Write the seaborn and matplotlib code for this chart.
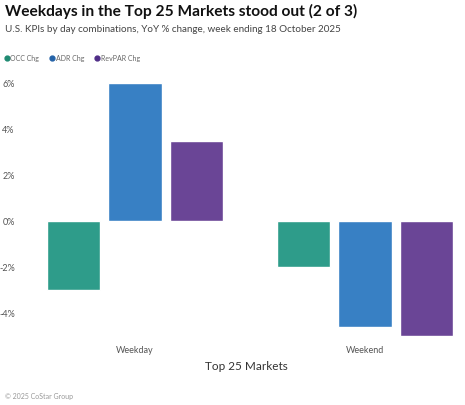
import numpy as np
import pandas as pd
import matplotlib
matplotlib.use("Agg")
import matplotlib.pyplot as plt
import seaborn as sns
from matplotlib.lines import Line2D

days = ["Weekday", "Weekend"]
metrics = ["OCC Chg", "ADR Chg", "RevPAR Chg"]
occ = [-3.0, -2.0]
adr = [6.0, -4.6]
revpar = [3.5, -5.0]
yticks = [-4, -2, 0, 2, 4, 6]
colors = ["#2e9c8a", "#3880c4", "#6a4596"]
dot_colors = ["#1f8a72", "#2463a8", "#4f2d87"]

df = pd.DataFrame({
    "day": days * 3,
    "metric": [m for m in metrics for _ in days],
    "value": occ + adr + revpar,
})

sns.set_style("white")
plt.rcParams["font.family"] = ["Lato", "DejaVu Sans"]

fig = plt.figure(figsize=(4.65, 4.05), dpi=100)
ax = fig.add_axes([30 / 465, 60 / 405, 432 / 465, 270 / 405])

sns.barplot(data=df, x="day", y="value", hue="metric", hue_order=metrics,
            palette=colors, order=days, gap=0.13, saturation=1,
            legend=False, ax=ax)

ax.set_xlim(-0.4565, 1.4217)
ax.set_ylim(-5.39, 6.35)
ax.set_yticks(yticks)
ax.set_yticklabels([f"{t}%" for t in yticks], fontsize=6.5, color="#555555")
ax.tick_params(axis="y", length=0, pad=11)
ax.tick_params(axis="x", length=0, pad=1, labelsize=6.5, labelcolor="#555555")
for lbl in ax.get_yticklabels():
    lbl.set_horizontalalignment("right")
ax.set_xlabel("Top 25 Markets", fontsize=8.5, color="#333333", labelpad=4)
ax.set_ylabel("")
sns.despine(ax=ax, left=True, bottom=True)

fig.text(5 / 465, 1 - 11 / 405, "Weekdays in the Top 25 Markets stood out (2 of 3)",
         fontsize=11.2, fontweight="bold", color="#111111", va="center", ha="left")
fig.text(5 / 465, 1 - 30 / 405, "U.S. KPIs by day combinations, YoY % change, week ending 18 October 2025",
         fontsize=7.1, color="#444444", va="center", ha="left")
fig.text(5 / 465, 1 - 397 / 405, "© 2025 CoStar Group",
         fontsize=5, color="#999999", va="center", ha="left")

handles = [Line2D([], [], marker="o", linestyle="", markersize=3.5, color=c) for c in dot_colors]
fig.legend(handles, metrics, loc="center left", bbox_to_anchor=(2 / 465, 1 - 58 / 405),
           ncol=3, frameon=False, fontsize=5, handletextpad=0.0, handlelength=1.0,
           columnspacing=1.4, borderaxespad=0, borderpad=0.2, labelcolor="#666666")

fig.savefig("out.png", dpi=100)
